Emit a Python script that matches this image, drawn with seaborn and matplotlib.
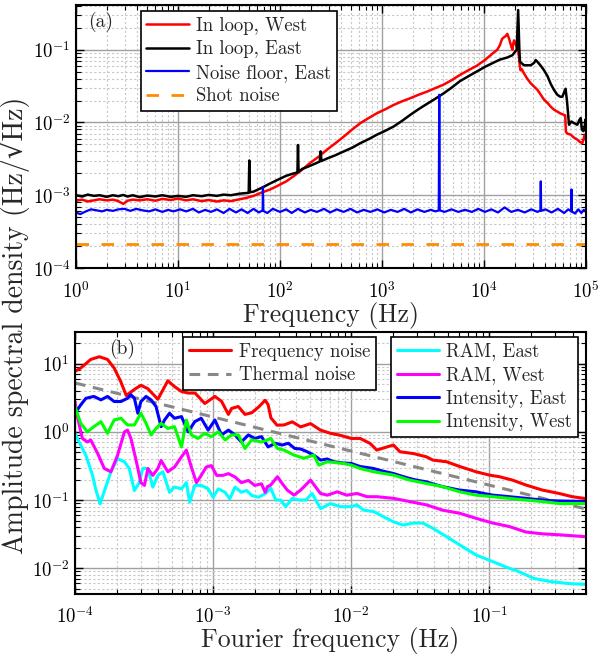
import numpy as np
import matplotlib
matplotlib.use("Agg")
import matplotlib.pyplot as plt
import seaborn as sns
from matplotlib.ticker import LogLocator, FuncFormatter, NullFormatter

# ---------------- panel (a) data ----------------
freq_west = [1, 1.15, 1.3, 1.5, 1.7, 2.0, 2.3, 2.6, 2.9, 3.2, 3.6, 4.2, 5, 6, 7, 8.5, 10, 12, 14, 17,
             20, 24, 28, 33, 40, 47, 55, 65, 80, 94, 115, 137, 165, 199, 240, 290, 350, 422, 510, 614,
             740, 893, 1080, 1300, 1570, 1890, 2280, 2760, 3300, 4000, 4800, 5820, 7000, 8470, 10200,
             12300, 13500, 14300, 15000, 15700, 16400, 16900, 17500, 18000, 18500, 19000, 19300, 19700,
             20300, 20900, 21500, 22000, 22400, 22800, 23400, 24700, 26500, 28700, 31000, 33400, 36000,
             38800, 42000, 45000, 48500, 52300, 56000, 60800, 62500, 63500, 66000, 70800, 76000, 82200,
             87000, 92000, 95000, 97000, 100000]
west = [8.4e-4, 8.7e-4, 8.2e-4, 8.5e-4, 8.8e-4, 8.5e-4, 8.7e-4, 8.3e-4, 7.6e-4, 8.4e-4, 8.7e-4, 8.5e-4,
        8.8e-4, 8.4e-4, 8.9e-4, 8.6e-4, 9.0e-4, 8.5e-4, 8.8e-4, 8.3e-4, 8.6e-4, 8.2e-4, 8.5e-4, 8.3e-4,
        8.8e-4, 9.2e-4, 9.8e-4, 1.08e-3, 1.2e-3, 1.34e-3, 1.55e-3, 1.84e-3, 2.25e-3, 2.8e-3, 3.4e-3,
        4.25e-3, 5.2e-3, 6.4e-3, 8.0e-3, 9.8e-3, 1.15e-2, 1.34e-2, 1.52e-2, 1.74e-2, 1.95e-2, 2.15e-2,
        2.4e-2, 2.65e-2, 2.95e-2, 3.3e-2, 3.8e-2, 4.5e-2, 5.2e-2, 6.0e-2, 7.2e-2, 9.0e-2, 1.0e-1,
        1.15e-1, 1.4e-1, 1.48e-1, 1.55e-1, 1.65e-1, 1.45e-1, 1.27e-1, 1.1e-1, 1.0e-1, 1.2e-1, 1.34e-1,
        1.2e-1, 1.1e-1, 1.0e-1, 8.0e-2, 6.0e-2, 5.2e-2, 5.4e-2, 4.7e-2, 4.0e-2, 3.45e-2, 3.1e-2, 2.8e-2,
        2.4e-2, 2.05e-2, 1.85e-2, 1.65e-2, 1.5e-2, 1.41e-2, 1.33e-2, 1.27e-2, 1.25e-2, 7.4e-3, 7.0e-3,
        6.8e-3, 6.2e-3, 5.8e-3, 5.4e-3, 5.2e-3, 6.0e-3, 6.8e-3, 6.7e-3]

freq_east = [1, 1.15, 1.3, 1.5, 1.7, 2.0, 2.3, 2.6, 2.9, 3.2, 3.6, 4.2, 5, 6, 7, 8.5, 10, 12, 14, 17,
             20, 24, 28, 33, 40, 49.3, 50, 50.7, 55, 65, 80, 94, 115, 137, 148, 150, 152, 165, 199, 245,
             250, 255, 290, 350, 422, 510, 614, 740, 893, 1080, 1300, 1570, 1890, 2280, 2760, 3300, 4000,
             4800, 5820, 7000, 8470, 10200, 12300, 14300, 16900, 19000, 20900, 21600, 22200, 22500, 24700,
             28700, 31000, 32100, 33400, 36000, 38800, 42000, 45000, 48500, 52300, 56000, 58600, 61000,
             63000, 65000, 68100, 72000, 76000, 82200, 86000, 88700, 91000, 94000, 97000, 99000, 100000]
east = [1.0e-3, 9.6e-4, 1.02e-3, 9.8e-4, 1.0e-3, 9.5e-4, 1.0e-3, 9.7e-4, 1.01e-3, 9.6e-4, 1.0e-3, 9.4e-4,
        9.9e-4, 9.6e-4, 1.0e-3, 9.5e-4, 9.8e-4, 9.5e-4, 1.0e-3, 9.7e-4, 1.01e-3, 9.8e-4, 1.02e-3, 1.0e-3,
        1.05e-3, 1.08e-3, 3.0e-3, 1.1e-3, 1.12e-3, 1.25e-3, 1.45e-3, 1.62e-3, 1.85e-3, 2.0e-3, 2.05e-3,
        4.9e-3, 2.1e-3, 2.3e-3, 2.55e-3, 2.9e-3, 4.0e-3, 2.95e-3, 3.2e-3, 3.55e-3, 4.0e-3, 4.5e-3,
        5.2e-3, 5.9e-3, 6.8e-3, 7.7e-3, 8.8e-3, 1.05e-2, 1.27e-2, 1.52e-2, 1.8e-2, 2.1e-2, 2.5e-2,
        3.0e-2, 3.7e-2, 4.3e-2, 5.0e-2, 5.8e-2, 6.6e-2, 7.3e-2, 7.8e-2, 8.4e-2, 1.0e-1, 3.5e-1, 1.0e-1,
        6.8e-2, 6.1e-2, 6.1e-2, 6.6e-2, 7.2e-2, 6.8e-2, 6.0e-2, 5.2e-2, 4.3e-2, 3.4e-2, 2.8e-2, 2.4e-2,
        2.25e-2, 2.26e-2, 2.6e-2, 2.9e-2, 2.0e-2, 9.3e-3, 1.03e-2, 9.8e-3, 9.3e-3, 1.08e-2, 1.15e-2,
        8.0e-3, 7.6e-3, 8.8e-3, 1.1e-2, 7.5e-3]

freq_floor = [1, 1.1, 1.25, 1.4, 1.6, 1.8, 2.0, 2.3, 2.6, 3.0, 3.4, 3.9, 4.5, 5.2, 6, 7, 8, 9, 10.5, 12,
              14, 16, 18.5, 21, 24, 28, 32, 37, 42, 48, 55, 62, 67.5, 68, 68.5, 75, 85, 100, 115, 130,
              150, 175, 200, 230, 270, 310, 360, 420, 490, 570, 660, 770, 900, 1050, 1220, 1420, 1650,
              1920, 2230, 2600, 3000, 3350, 3600, 3640, 3680, 4100, 4800, 5600, 6500, 7600, 8800, 10200,
              11800, 13700, 15900, 18500, 21500, 25000, 29000, 33500, 35700, 36000, 36300, 40000, 46000,
              53000, 61000, 67000, 71500, 72000, 72500, 78000, 84000, 90000, 95000, 100000]
floor = [5.8e-4, 5.5e-4, 6.0e-4, 6.4e-4, 6.2e-4, 6.0e-4, 6.3e-4, 6.1e-4, 6.4e-4, 6.5e-4, 6.1e-4, 6.5e-4,
         6.2e-4, 6.0e-4, 6.4e-4, 5.9e-4, 6.3e-4, 6.0e-4, 6.4e-4, 6.0e-4, 6.5e-4, 5.8e-4, 6.3e-4, 5.9e-4,
         6.4e-4, 5.7e-4, 6.5e-4, 5.8e-4, 6.4e-4, 5.7e-4, 6.5e-4, 5.8e-4, 6.2e-4, 1.3e-3, 6.1e-4, 5.7e-4,
         6.5e-4, 5.9e-4, 6.4e-4, 5.7e-4, 6.5e-4, 5.8e-4, 6.3e-4, 5.9e-4, 6.5e-4, 5.8e-4, 6.4e-4, 5.9e-4,
         6.5e-4, 5.8e-4, 6.3e-4, 5.9e-4, 6.4e-4, 5.8e-4, 6.3e-4, 5.9e-4, 6.5e-4, 5.8e-4, 6.4e-4, 5.9e-4,
         6.3e-4, 6.0e-4, 6.2e-4, 2.4e-2, 6.2e-4, 5.9e-4, 6.4e-4, 5.9e-4, 6.3e-4, 5.9e-4, 6.5e-4, 5.9e-4,
         6.4e-4, 5.8e-4, 6.8e-4, 5.9e-4, 6.3e-4, 5.8e-4, 6.4e-4, 5.9e-4, 6.2e-4, 1.55e-3, 6.1e-4, 6.4e-4,
         5.8e-4, 6.5e-4, 5.7e-4, 6.4e-4, 6.0e-4, 1.2e-3, 6.0e-4, 5.6e-4, 6.4e-4, 5.7e-4, 6.3e-4, 5.9e-4]

freq_shot = [1, 1e5]
shot = [2.15e-4, 2.15e-4]

# ---------------- panel (b) data ----------------
f_fn = [1.0e-4, 1.1e-4, 1.3e-4, 1.5e-4, 1.72e-4, 1.92e-4, 2.14e-4, 2.35e-4, 2.7e-4, 3.0e-4, 3.36e-4,
        3.98e-4, 4.7e-4, 5.25e-4, 5.9e-4, 6.6e-4, 7.4e-4, 8.7e-4, 1.03e-3, 1.15e-3, 1.29e-3, 1.36e-3,
        1.52e-3, 1.7e-3, 1.9e-3, 2.13e-3, 2.38e-3, 2.5e-3, 2.62e-3, 2.9e-3, 3.26e-3, 3.74e-3, 4.3e-3,
        5.07e-3, 5.98e-3, 7.08e-3, 8.3e-3, 1.0e-2, 1.16e-2, 1.37e-2, 1.53e-2, 1.81e-2, 2.02e-2, 2.25e-2,
        2.82e-2, 3.5e-2, 3.9e-2, 4.9e-2, 6.1e-2, 8.0e-2, 0.1, 0.118, 0.147, 0.184, 0.242, 0.319, 0.398, 0.5]
freq_noise = [7.7, 8.6, 11.5, 12.6, 11.5, 8.6, 5.5, 3.4, 4.2, 4.8, 4.3, 3.0, 5.6, 4.6, 3.9, 3.7, 3.7,
              2.6, 3.3, 2.8, 1.8, 2.2, 2.35, 1.8, 1.9, 2.3, 2.9, 2.5, 1.6, 1.25, 1.26, 1.4, 1.18, 1.32,
              1.06, 0.95, 0.89, 0.8, 0.8, 0.675, 0.54, 0.6, 0.64, 0.51, 0.48, 0.43, 0.385, 0.364, 0.31,
              0.26, 0.232, 0.22, 0.196, 0.166, 0.14, 0.125, 0.112, 0.105]

f_th = [1.0e-4, 0.5]
thermal = [5.2, 0.074]

f_ie = [1.0e-4, 1.1e-4, 1.2e-4, 1.37e-4, 1.54e-4, 1.72e-4, 1.92e-4, 2.15e-4, 2.4e-4, 2.54e-4, 2.69e-4,
        2.85e-4, 3.0e-4, 3.27e-4, 3.55e-4, 3.86e-4, 4.2e-4, 4.45e-4, 4.83e-4, 5.25e-4, 5.9e-4, 6.6e-4,
        7.36e-4, 8.2e-4, 9.2e-4, 1.03e-3, 1.15e-3, 1.29e-3, 1.44e-3, 1.6e-3, 1.8e-3, 2.0e-3, 2.24e-3,
        2.5e-3, 2.82e-3, 3.16e-3, 3.5e-3, 3.9e-3, 4.3e-3, 4.8e-3, 5.4e-3, 6.0e-3, 6.7e-3, 7.5e-3, 8.7e-3,
        1.0e-2, 1.16e-2, 1.3e-2, 1.45e-2, 1.7e-2, 2.02e-2, 2.3e-2, 2.65e-2, 3.0e-2, 3.5e-2, 4.0e-2,
        4.6e-2, 5.3e-2, 6.1e-2, 7.0e-2, 8.0e-2, 9.3e-2, 0.106, 0.122, 0.139, 0.16, 0.184, 0.21, 0.242,
        0.28, 0.319, 0.4, 0.5]
int_east = [1.87, 2.48, 3.1, 3.3, 2.94, 3.3, 2.78, 2.78, 3.1, 3.5, 3.1, 1.87, 2.78, 3.3, 2.94, 2.35, 1.19,
            1.49, 1.87, 1.58, 1.67, 1.0, 1.41, 1.58, 1.06, 1.49, 0.9, 1.06, 0.9, 0.71, 0.9, 0.8, 0.85, 0.6,
            0.68, 0.64, 0.68, 0.57, 0.56, 0.51, 0.45, 0.385, 0.4, 0.364, 0.35, 0.344, 0.31, 0.3, 0.29,
            0.265, 0.245, 0.225, 0.207, 0.195, 0.185, 0.17, 0.157, 0.148, 0.14, 0.136, 0.132, 0.124,
            0.118, 0.115, 0.112, 0.109, 0.106, 0.103, 0.1, 0.098, 0.097, 0.096, 0.095]

f_iw = [1.0e-4, 1.1e-4, 1.23e-4, 1.37e-4, 1.54e-4, 1.72e-4, 1.92e-4, 2.15e-4, 2.4e-4, 2.69e-4, 3.0e-4,
        3.27e-4, 3.55e-4, 3.86e-4, 4.2e-4, 4.7e-4, 5.25e-4, 5.9e-4, 6.4e-4, 6.95e-4, 7.76e-4, 8.7e-4,
        9.7e-4, 1.09e-3, 1.22e-3, 1.36e-3, 1.52e-3, 1.7e-3, 1.9e-3, 2.24e-3, 2.47e-3, 2.61e-3, 2.92e-3,
        3.26e-3, 3.85e-3, 4.54e-3, 5.36e-3, 5.82e-3, 6.7e-3, 8.8e-3, 1.0e-2, 1.16e-2, 1.45e-2, 2.02e-2,
        2.65e-2, 3.5e-2, 4.6e-2, 6.1e-2, 8.0e-2, 0.106, 0.139, 0.184, 0.242, 0.319, 0.5]
int_west = [2.35, 1.33, 1.0, 1.19, 1.41, 0.95, 1.49, 1.58, 1.26, 1.26, 1.87, 1.33, 0.9, 1.12, 1.33, 1.12,
            1.19, 0.6, 1.49, 0.9, 0.8, 0.95, 0.85, 1.0, 0.76, 0.9, 0.9, 0.57, 0.76, 0.71, 0.76, 0.8, 0.57,
            0.54, 0.456, 0.41, 0.456, 0.325, 0.364, 0.344, 0.325, 0.29, 0.26, 0.232, 0.196, 0.175, 0.157,
            0.132, 0.118, 0.112, 0.106, 0.1, 0.095, 0.089, 0.089]

f_rw = [1.0e-4, 1.04e-4, 1.13e-4, 1.23e-4, 1.3e-4, 1.46e-4, 1.63e-4, 1.82e-4, 2.03e-4, 2.28e-4, 2.4e-4,
        2.54e-4, 2.77e-4, 3.0e-4, 3.18e-4, 3.37e-4, 3.66e-4, 3.98e-4, 4.2e-4, 4.7e-4, 5.25e-4, 5.9e-4,
        6.4e-4, 6.95e-4, 7.57e-4, 8.2e-4, 8.9e-4, 9.7e-4, 1.06e-3, 1.18e-3, 1.29e-3, 1.44e-3, 1.6e-3,
        1.8e-3, 2.0e-3, 2.24e-3, 2.38e-3, 2.47e-3, 2.61e-3, 2.92e-3, 3.16e-3, 3.44e-3, 3.85e-3, 4.3e-3,
        5.07e-3, 5.98e-3, 6.7e-3, 7.9e-3, 9.3e-3, 1.1e-2, 1.3e-2, 1.53e-2, 2.02e-2, 2.65e-2, 3.5e-2,
        4.6e-2, 6.1e-2, 8.0e-2, 0.106, 0.139, 0.184, 0.242, 0.319, 0.5]
ram_west = [2.78, 1.67, 0.8, 0.71, 0.76, 0.48, 0.29, 0.26, 0.45, 1.0, 1.06, 0.8, 0.38, 0.18, 0.164, 0.29,
            0.23, 0.29, 0.38, 0.26, 0.305, 0.43, 0.54, 0.305, 0.18, 0.23, 0.305, 0.32, 0.23, 0.23, 0.244,
            0.218, 0.18, 0.194, 0.164, 0.173, 0.13, 0.157, 0.166, 0.22, 0.175, 0.14, 0.118, 0.14, 0.196,
            0.125, 0.118, 0.132, 0.118, 0.125, 0.112, 0.112, 0.106, 0.095, 0.085, 0.071, 0.064, 0.054,
            0.046, 0.041, 0.034, 0.032, 0.031, 0.029]

f_re = [1.0e-4, 1.07e-4, 1.2e-4, 1.34e-4, 1.41e-4, 1.52e-4, 1.62e-4, 1.82e-4, 2.03e-4, 2.28e-4, 2.47e-4,
        2.69e-4, 2.92e-4, 3.09e-4, 3.37e-4, 3.66e-4, 3.98e-4, 4.33e-4, 4.83e-4, 5.25e-4, 5.9e-4, 6.4e-4,
        6.76e-4, 7.36e-4, 8.2e-4, 9.2e-4, 1.0e-3, 1.09e-3, 1.22e-3, 1.32e-3, 1.44e-3, 1.6e-3, 1.75e-3,
        1.9e-3, 2.13e-3, 2.4e-3, 2.61e-3, 2.84e-3, 3.08e-3, 3.35e-3, 3.74e-3, 4.2e-3, 4.7e-3, 5.2e-3,
        6.0e-3, 7.06e-3, 8.3e-3, 1.0e-2, 1.1e-2, 1.23e-2, 1.45e-2, 1.71e-2, 2.02e-2, 2.38e-2, 2.8e-2,
        3.3e-2, 3.9e-2, 4.9e-2, 6.1e-2, 8.0e-2, 0.106, 0.139, 0.158, 0.21, 0.277, 0.366, 0.5]
ram_east = [0.95, 0.71, 0.45, 0.23, 0.146, 0.088, 0.13, 0.26, 0.405, 0.363, 0.29, 0.138, 0.18, 0.29, 0.29,
            0.155, 0.23, 0.26, 0.13, 0.155, 0.146, 0.18, 0.093, 0.164, 0.164, 0.146, 0.11, 0.146, 0.13,
            0.104, 0.155, 0.13, 0.138, 0.117, 0.11, 0.125, 0.15, 0.1, 0.1, 0.08, 0.106, 0.1, 0.1, 0.125,
            0.075, 0.089, 0.08, 0.08, 0.085, 0.071, 0.068, 0.057, 0.048, 0.043, 0.046, 0.046, 0.0385,
            0.029, 0.022, 0.0157, 0.0125, 0.01, 0.0092, 0.0071, 0.0064, 0.006, 0.0058]

tick_exp_a_x = [0, 1, 2, 3, 4, 5]
tick_exp_a_y = [-4, -3, -2, -1]
tick_exp_b_x = [-4, -3, -2, -1]
tick_exp_b_y = [-2, -1, 0, 1]

# ---------------- style ----------------
sns.set_style("ticks")
plt.rcParams["font.family"] = ["cmr10", "DejaVu Serif"]
plt.rcParams["mathtext.fontset"] = "cm"
plt.rcParams["axes.unicode_minus"] = False
plt.rcParams["axes.formatter.use_mathtext"] = True

fig = plt.figure(figsize=(6.01, 6.55), dpi=100)
ax1 = fig.add_axes([0.1265, 0.5908, 0.8486, 0.4015])
ax2 = fig.add_axes([0.1248, 0.0931, 0.8502, 0.4000])

kw = dict(estimator=None, sort=False)
sns.lineplot(x=freq_west, y=west, ax=ax1, color="#ff0000", linewidth=1.8, label="In loop, West", **kw)
sns.lineplot(x=freq_east, y=east, ax=ax1, color="#000000", linewidth=1.8, label="In loop, East", **kw)
sns.lineplot(x=freq_floor, y=floor, ax=ax1, color="#0000ff", linewidth=1.6, label="Noise floor, East", **kw)
l_shot = sns.lineplot(x=freq_shot, y=shot, ax=ax1, color="#ff8c00", linewidth=2.0,
                      label="Shot noise", **kw).lines[-1]
l_shot.set_dashes((4.5, 4.5))

sns.lineplot(x=f_fn, y=freq_noise, ax=ax2, color="#ff0000", linewidth=2.2, label="Frequency noise", **kw)
l_th = sns.lineplot(x=f_th, y=thermal, ax=ax2, color="#888888", linewidth=2.2,
                    label="Thermal noise", **kw).lines[-1]
l_th.set_dashes((3.5, 2.5))
sns.lineplot(x=f_re, y=ram_east, ax=ax2, color="#00ffff", linewidth=2.2, label="RAM, East", **kw)
sns.lineplot(x=f_rw, y=ram_west, ax=ax2, color="#ff00ff", linewidth=2.2, label="RAM, West", **kw)
sns.lineplot(x=f_ie, y=int_east, ax=ax2, color="#0000ff", linewidth=2.2, label="Intensity, East", **kw)
sns.lineplot(x=f_iw, y=int_west, ax=ax2, color="#00ff00", linewidth=2.2, label="Intensity, West", **kw)


def fmt(v, pos):
    e = int(round(np.log10(v)))
    return r"$10^{%d}$" % e


for ax in (ax1, ax2):
    ax.set_xscale("log")
    ax.set_yscale("log")

ax1.set_xlim(1, 1e5)
ax1.set_ylim(1e-4, 0.41)
ax2.set_xlim(1e-4, 0.5)
ax2.set_ylim(4.2e-3, 29)

ax1.set_xticks([10.0 ** e for e in tick_exp_a_x])
ax1.set_yticks([10.0 ** e for e in tick_exp_a_y])
ax2.set_xticks([10.0 ** e for e in tick_exp_b_x])
ax2.set_yticks([10.0 ** e for e in tick_exp_b_y])

for ax in (ax1, ax2):
    ax.xaxis.set_minor_locator(LogLocator(base=10, subs=np.arange(2, 10), numticks=30))
    ax.yaxis.set_minor_locator(LogLocator(base=10, subs=np.arange(2, 10), numticks=30))
    ax.xaxis.set_major_formatter(FuncFormatter(fmt))
    ax.yaxis.set_major_formatter(FuncFormatter(fmt))
    ax.xaxis.set_minor_formatter(NullFormatter())
    ax.yaxis.set_minor_formatter(NullFormatter())
    ax.grid(True, which="major", color="#a0a0a0", linewidth=1.0, linestyle="-")
    ax.grid(True, which="minor", color="#c8c8c8", linewidth=0.8, linestyle=(0, (2, 2)))
    ax.set_axisbelow(True)
    ax.tick_params(which="both", direction="in", top=True, right=True, labelsize=13.5, colors="black")
    ax.tick_params(which="major", length=6, width=1.0)
    ax.tick_params(which="minor", length=3.5, width=0.8)
    ax.tick_params(axis="x", which="major", pad=9)
    ax.tick_params(axis="y", which="major", pad=4)
    for s in ax.spines.values():
        s.set_linewidth(1.5)
        s.set_color("black")
        s.set_visible(True)

ax1.set_xlabel("Frequency (Hz)", fontsize=18.5, labelpad=0)
ax2.set_xlabel("Fourier frequency (Hz)", fontsize=18.5, labelpad=0)
ax1.set_ylabel("")
ax2.set_ylabel("")
fig.text(0.025, 0.504, "Amplitude spectral density (Hz/\u221aHz)", rotation=90,
         va="center", ha="center", fontsize=20)

ax1.text(0.024, 0.975, "(a)", transform=ax1.transAxes, fontsize=14, va="top", ha="left")
ax2.text(0.067, 0.972, "(b)", transform=ax2.transAxes, fontsize=14, va="top", ha="left")

legkw = dict(fontsize=13.5, frameon=True, fancybox=False, edgecolor="black", framealpha=1,
             borderaxespad=0, handlelength=2.25, labelspacing=0.3, borderpad=0.3, handletextpad=0.4)

h1, lab1 = ax1.get_legend_handles_labels()
leg1 = ax1.legend(h1, lab1, loc="upper left", bbox_to_anchor=(0.127, 0.977), **legkw)
leg1.get_frame().set_linewidth(1.2)

h2, lab2 = ax2.get_legend_handles_labels()
legA = ax2.legend(h2[:2], lab2[:2], loc="upper left", bbox_to_anchor=(0.212, 0.981), **legkw)
legA.get_frame().set_linewidth(1.2)
ax2.add_artist(legA)
legB = ax2.legend(h2[2:], lab2[2:], loc="upper right", bbox_to_anchor=(0.984, 0.981), **legkw)
legB.get_frame().set_linewidth(1.2)

fig.savefig("out.png", dpi=100)
